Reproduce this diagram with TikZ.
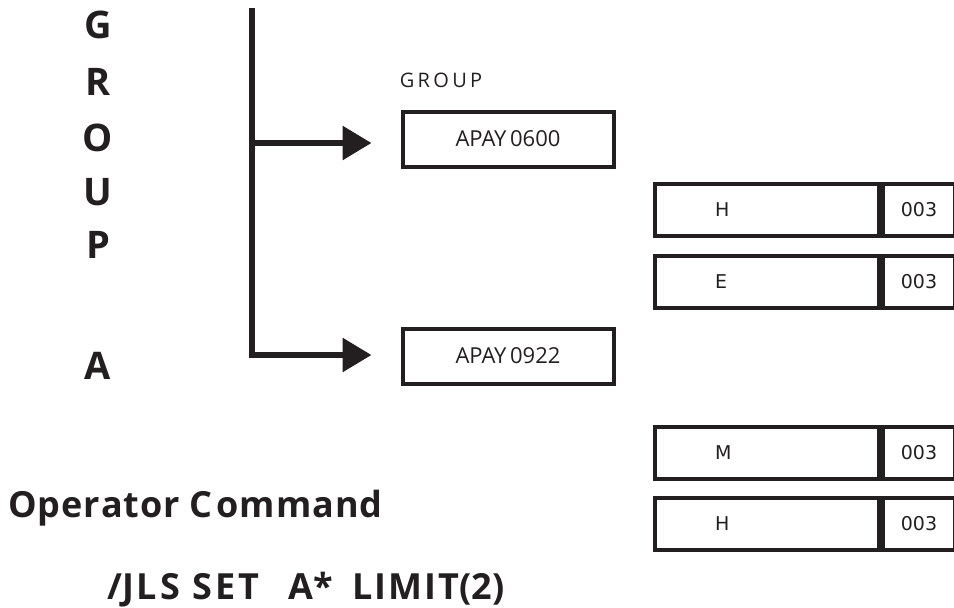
\documentclass[tikz,border=0pt]{standalone}
\usepackage{fontspec}
\setmainfont{Open Sans}
\newfontfamily\boxfont{DejaVu Sans}
\usetikzlibrary{arrows.meta}
\definecolor{ink}{HTML}{231F20}
\begin{document}
\begin{tikzpicture}[x=1pt,y=-1pt,
  big/.style={font=\fontsize{38}{38}\selectfont\bfseries, text=ink, inner sep=0pt},
  cmdtext/.style={font=\fontsize{36}{36}\selectfont\bfseries, text=ink, inner sep=0pt, anchor=base west},
  groupbox/.style={draw=ink, line width=4pt, minimum width=211pt, minimum height=55pt,
    font=\fontsize{22}{22}\selectfont, text=ink, inner sep=0pt},
  codebox/.style={draw=ink, line width=4pt, minimum width=224pt, minimum height=52pt,
    text width=104pt, align=left, inner xsep=60pt, inner ysep=0pt,
    font=\boxfont\fontsize{19}{19}\selectfont, text=ink},
  countbox/.style={draw=ink, line width=4pt, minimum width=72pt, minimum height=52pt,
    font=\boxfont\fontsize{19}{19}\selectfont, text=ink, inner sep=0pt},
  trunk/.style={draw=ink, line width=6pt},
  branch/.style={draw=ink, line width=6pt, -{Triangle[length=29pt,width=33pt]}}]
\useasboundingbox (0,0) rectangle (954,608);

% vertical group title
\node[big] (lg) at (98,25) {G};
\node[big] (lr) at (98,82) {R};
\node[big] (lo) at (98,138) {O};
\node[big] (lu) at (98,192) {U};
\node[big] (lp) at (98,245) {P};
\node[big] (la) at (98,366) {A};

% tree trunk and branches
\coordinate (top) at (252,8);
\coordinate (j1) at (252,143);
\coordinate (j2) at (252,355);

\node[font=\fontsize{20}{20}\selectfont, text=ink, inner sep=0pt] (glabel) at (441,80) {G\,R\,O\,U\,P};
\node[groupbox] (g1) at (508,139) {APAY\,0600};
\node[groupbox] (g2) at (508,356) {APAY\,0922};

\draw[trunk] (top) -- ([yshift=3pt]j2);
\draw[branch] ([xshift=-3pt]j1) -- ([xshift=-29pt]g1.west |- j1);
\draw[branch] ([xshift=-3pt]j2) -- ([xshift=-29pt]g2.west |- j2);

% job class rows
\node[codebox] (c1) at (767,210) {H};
\node[countbox, anchor=west] (n1) at (c1.east) {003};
\node[codebox] (c2) at (767,282) {E};
\node[countbox, anchor=west] (n2) at (c2.east) {003};
\node[codebox] (c3) at (767,453) {M};
\node[countbox, anchor=west] (n3) at (c3.east) {003};
\node[codebox] (c4) at (767,524) {H};
\node[countbox, anchor=west] (n4) at (c4.east) {003};

% command text
\node[cmdtext] (cmdtitle) at (8,517) {O\hspace{1pt}p\hspace{1pt}e\hspace{1pt}r\hspace{1pt}a\hspace{1pt}t\hspace{1pt}o\hspace{1pt}r C\hspace{4pt}o\hspace{1pt}m\hspace{1pt}m\hspace{1pt}a\hspace{1pt}n\hspace{1pt}d};
\node[cmdtext] (cmd) at (107,599) {/J\hspace{3pt}L\hspace{3pt}S\hspace{3pt} S\hspace{3pt}E\hspace{3pt}T\;\; A*\; L\hspace{2pt}I\hspace{2pt}M\hspace{2pt}I\hspace{2pt}T(2)};
\end{tikzpicture}
\end{document}
